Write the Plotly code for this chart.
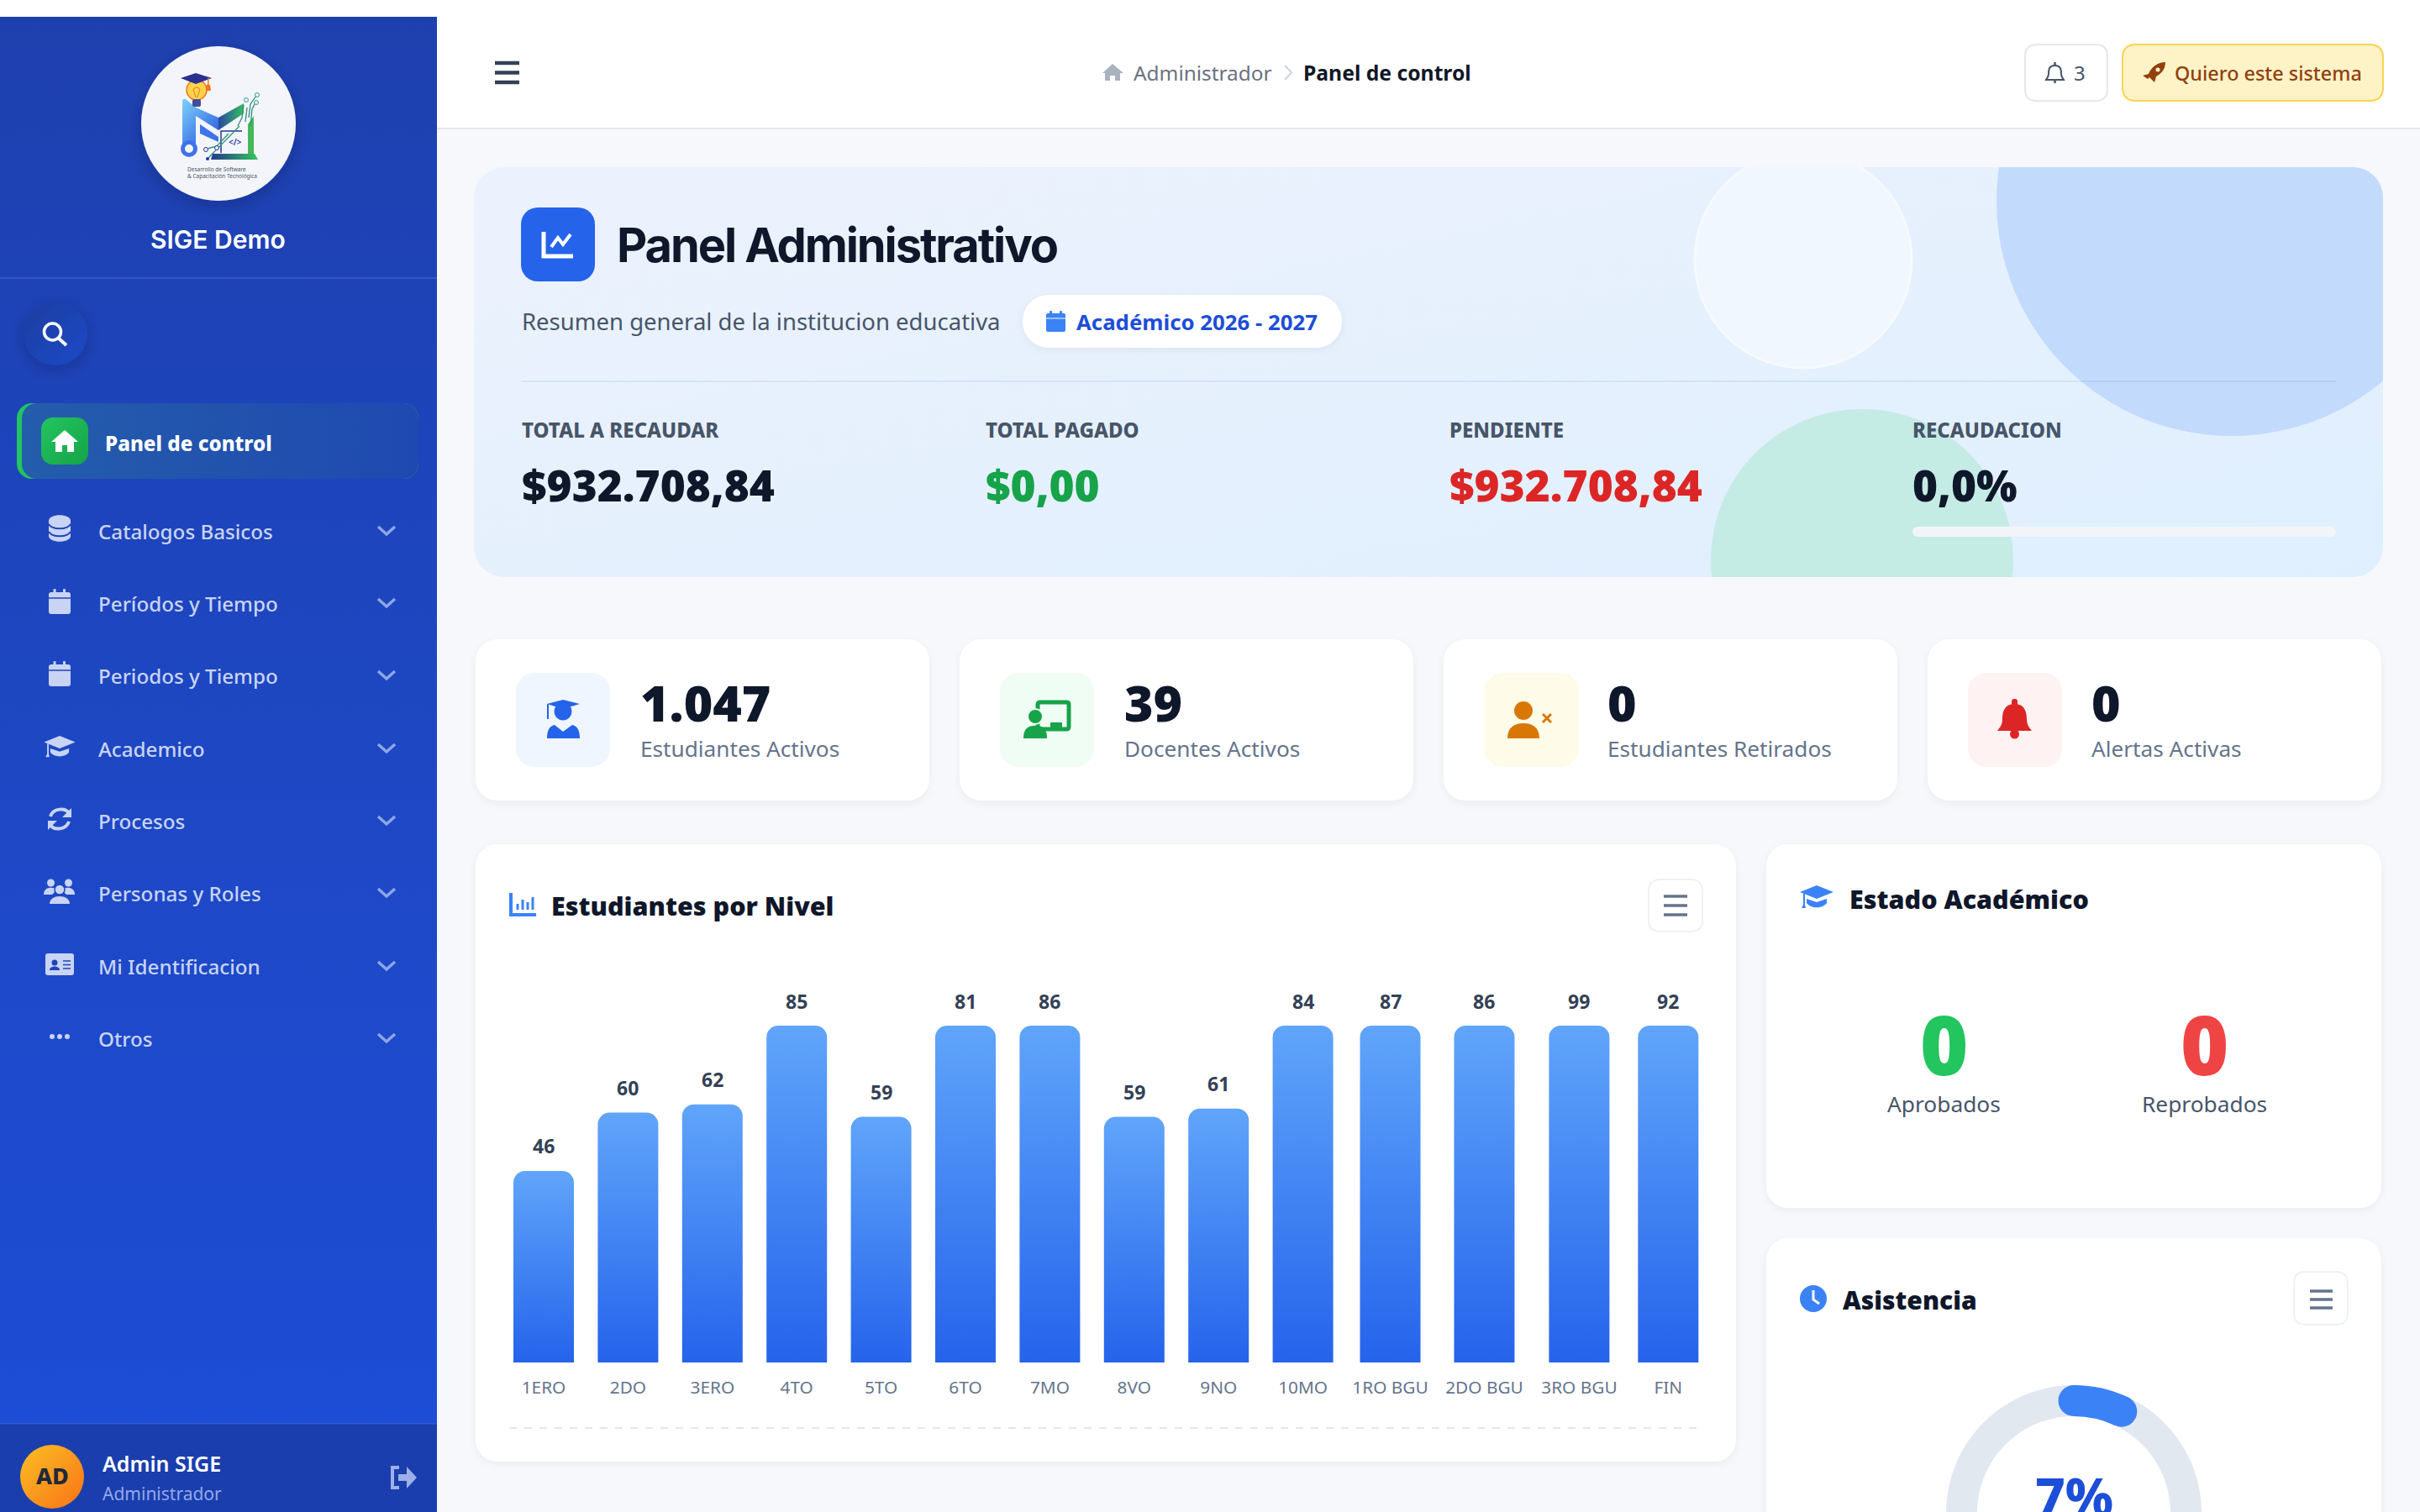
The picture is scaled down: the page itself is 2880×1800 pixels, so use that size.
import base64
import math
import plotly.graph_objects as go

W, H = 2880, 2000

# chart data
levels = ['1ERO', '2DO', '3ERO', '4TO', '5TO', '6TO', '7MO', '8VO', '9NO', '10MO', '1RO BGU', '2DO BGU', '3RO BGU', 'FIN']
students = [46, 60, 62, 85, 59, 81, 86, 59, 61, 84, 87, 86, 99, 92]
band_widths = [1, 1, 1, 1, 1, 1, 1, 1, 1, 1, 1.07, 1.16, 1.09, 1.02]
y_max = 80.9
attendance = [7, 93]

menu_items = ['Catalogos Basicos', 'Períodos y Tiempo', 'Periodos y Tiempo', 'Academico', 'Procesos',
              'Personas y Roles', 'Mi Identificacion', 'Otros']
money_labels = ['TOTAL A RECAUDAR', 'TOTAL PAGADO', 'PENDIENTE', 'RECAUDACION']
money_values = ['$932.708,84', '$0,00', '$932.708,84', '0,0%']
kpi_values = ['1.047', '39', '0', '0']
kpi_labels = ['Estudiantes Activos', 'Docentes Activos', 'Estudiantes Retirados', 'Alertas Activas']

shapes, notes = [], []


def rr(x0, y0, x1, y1, r):
    return (f'M{x0+r},{y0} L{x1-r},{y0} Q{x1},{y0} {x1},{y0+r} L{x1},{y1-r} Q{x1},{y1} {x1-r},{y1} '
            f'L{x0+r},{y1} Q{x0},{y1} {x0},{y1-r} L{x0},{y0+r} Q{x0},{y0} {x0+r},{y0} Z')


def path(d, fill=None, line=None, width=0, layer='below'):
    shapes.append(dict(type='path', path=d, xref='x', yref='y', layer=layer,
                       fillcolor=fill or 'rgba(0,0,0,0)',
                       line=dict(color=line or 'rgba(0,0,0,0)', width=width)))


def disc(cx, cy, r, fill=None, line=None, width=0, layer='below'):
    shapes.append(dict(type='circle', xref='x', yref='y', layer=layer, x0=cx-r, x1=cx+r, y0=cy-r, y1=cy+r,
                       fillcolor=fill or 'rgba(0,0,0,0)',
                       line=dict(color=line or 'rgba(0,0,0,0)', width=width)))


def text(x, y, s, size, color, weight=400, font='Noto Sans', anchor='left'):
    notes.append(dict(x=x, y=y - 1.5, xref='x', yref='y', text=s, showarrow=False, xanchor=anchor, yanchor='middle',
                      align=anchor, borderpad=0, font=dict(family=font, size=size, color=color, weight=weight)))


def burger(x0, x1, ys, color, width):
    for y in ys:
        path(f'M{x0},{y} L{x1},{y}', line=color, width=width)


def grad_cap(cx, cy, s, color):
    path(f'M{cx},{cy-15*s} L{cx+20*s},{cy-7*s} L{cx},{cy+1*s} L{cx-20*s},{cy-7*s} Z', fill=color)
    path(f'M{cx-12*s},{cy+1*s} L{cx-12*s},{cy+6*s} C{cx-7*s},{cy+13*s} {cx+7*s},{cy+13*s} {cx+12*s},{cy+6*s} '
         f'L{cx+12*s},{cy+1*s} L{cx},{cy+5*s} Z', fill=color)
    path(f'M{cx-16*s},{cy-5*s} L{cx-16*s},{cy+8*s} L{cx-18*s},{cy+12*s} L{cx-13*s},{cy+12*s} L{cx-14*s},{cy+8*s} L{cx-14*s},{cy-5*s} Z', fill=color)


# panels that need gradients or soft shadows go in one background picture
panels = f'''<svg xmlns="http://www.w3.org/2000/svg" width="{W}" height="{H}" viewBox="0 0 {W} {H}">
<defs>
<linearGradient id="side" x1="0" y1="0" x2="0" y2="1"><stop offset="0" stop-color="#1e40af"/><stop offset="1" stop-color="#1d4ed8"/></linearGradient>
<linearGradient id="hero" x1="0" y1="0" x2="1" y2="1"><stop offset="0" stop-color="#ecf2fd"/><stop offset="1" stop-color="#dfeffe"/></linearGradient>
<linearGradient id="act" x1="0" y1="0" x2="1" y2="0"><stop offset="0" stop-color="#245dab"/><stop offset="1" stop-color="#1f49b0"/></linearGradient>
<linearGradient id="srch" x1="0" y1="0" x2="1" y2="1"><stop offset="0" stop-color="#1e3f9f"/><stop offset="1" stop-color="#1d48c8"/></linearGradient>
<linearGradient id="green" x1="0" y1="0" x2="1" y2="1"><stop offset="0" stop-color="#22c55e"/><stop offset="1" stop-color="#16a34a"/></linearGradient>
<linearGradient id="ava" x1="0" y1="0" x2="1" y2="1"><stop offset="0" stop-color="#fbbf24"/><stop offset="1" stop-color="#f97316"/></linearGradient>
<linearGradient id="mleft" gradientUnits="userSpaceOnUse" x1="217" y1="118" x2="262" y2="160"><stop offset="0" stop-color="#7dd3fc"/><stop offset="1" stop-color="#2f5fe0"/></linearGradient>
<linearGradient id="mright" gradientUnits="userSpaceOnUse" x1="258" y1="0" x2="292" y2="0"><stop offset="0" stop-color="#2a3fa8"/><stop offset="1" stop-color="#34c759"/></linearGradient>
<linearGradient id="lapbase" x1="0" y1="0" x2="1" y2="0"><stop offset="0" stop-color="#25378f"/><stop offset="1" stop-color="#34c759"/></linearGradient>
<filter id="sh" x="-20%" y="-20%" width="140%" height="150%"><feDropShadow dx="0" dy="3" stdDeviation="5" flood-color="#0f172a" flood-opacity="0.05"/></filter>
<filter id="sh2" x="-30%" y="-30%" width="160%" height="170%"><feDropShadow dx="0" dy="6" stdDeviation="9" flood-color="#0f172a" flood-opacity="0.22"/></filter>
<clipPath id="heroclip"><rect x="564" y="199" width="2272" height="488" rx="36"/></clipPath>
</defs>
<rect width="{W}" height="{H}" fill="#ffffff"/>
<rect x="520" y="154" width="2360" height="{H}" fill="#f6f8fc"/>
<rect x="520" y="152" width="2360" height="2" fill="#e5e7eb"/>
<rect x="0" y="20" width="520" height="1780" fill="url(#side)"/>
<rect x="0" y="330" width="520" height="2" fill="#ffffff" fill-opacity="0.1"/>
<rect x="0" y="1695" width="520" height="105" fill="#1a3eae"/>
<rect x="0" y="1694" width="520" height="2" fill="#ffffff" fill-opacity="0.08"/>
<circle cx="260" cy="147" r="92" fill="#f3f5fb" filter="url(#sh2)"/>
<circle cx="66" cy="397" r="38" fill="url(#srch)" filter="url(#sh2)"/>
<rect x="20" y="480" width="478" height="90" rx="18" fill="#22c55e"/>
<rect x="26" y="480" width="472" height="90" rx="18" fill="url(#act)"/>
<rect x="49" y="497" width="56" height="56" rx="14" fill="url(#green)"/>
<circle cx="62" cy="1758" r="38" fill="url(#ava)"/>
<path d="M217,121 Q217,117 221,118 L233,128 L260,140 L260,155 L233,138 L233,172 L217,172 Z" fill="url(#mleft)"/>
<path d="M260,140 L290,123 L290,135 L260,155 Z" fill="url(#mright)"/>
<path d="M238,148 L260,163 L260,169 L238,159 Z" fill="#3f73ea"/>
<circle cx="225" cy="177" r="7.5" fill="#f3f5fb" stroke="#3f73ea" stroke-width="5"/>
<path d="M295,183 L295,148 L302,138 L302,183 Z" fill="#45b85a"/>
<rect x="263" y="156" width="32" height="26" fill="#f3f5fb"/>
<path d="M263,182 L263,156 L288,156" fill="none" stroke="#25378f" stroke-width="1.5"/>
<path d="M253,183 L303,183 L307,190 L251,190 Z" fill="url(#lapbase)"/>
<path d="M247,189 L285,150 M243,178 L258,174 L272,159 M290,125 L288,140 L283,150 M294,128 L292,145 M305,120 L300,130 L298,150 M305,114 L298,124 L296,140" stroke="#2f8f7f" stroke-width="1.3" fill="none"/>
<circle cx="293" cy="119" r="2.5" fill="#f3f5fb" stroke="#2f9f8f" stroke-width="1"/>
<circle cx="306" cy="113" r="2.5" fill="#f3f5fb" stroke="#2f9f8f" stroke-width="1"/>
<circle cx="305" cy="122" r="2.5" fill="#f3f5fb" stroke="#2f9f8f" stroke-width="1"/>
<circle cx="245" cy="178" r="2.5" fill="#f3f5fb" stroke="#25378f" stroke-width="1"/>
<circle cx="258" cy="176" r="2.5" fill="#f3f5fb" stroke="#25378f" stroke-width="1"/>
<circle cx="247" cy="189" r="2" fill="#25378f"/>
<circle cx="234" cy="107" r="12" fill="#fcd34d" stroke="#f97316" stroke-width="1.5"/>
<path d="M230,106 L233,116 M238,106 L235,116 M230,106 Q234,102 238,106" stroke="#f97316" stroke-width="1" fill="none"/>
<rect x="229" y="118" width="10" height="9" rx="2" fill="#3f4f9a"/>
<path d="M215,93 L233,87 L252,93 L233,100 Z" fill="#2b2f8f"/>
<rect x="247" y="93" width="1.5" height="8" fill="#f97316"/><path d="M246,101 L250,101 L251,108 L245,108 Z" fill="#f97316"/>
<g clip-path="url(#heroclip)">
<rect x="564" y="199" width="2272" height="488" fill="url(#hero)"/>
<circle cx="2656" cy="239" r="280" fill="#c2dafc"/>
<circle cx="2146" cy="309" r="129" fill="#f0f7fe" stroke="#f6faff" stroke-width="3"/>
<circle cx="2216" cy="667" r="180" fill="#c4ebe4"/>
</g>
<rect x="620" y="453" width="2160" height="2" fill="#3b6cc0" fill-opacity="0.1"/>
<rect x="2276" y="627" width="504" height="12" rx="6" fill="#f1f5f9"/>
<rect x="620" y="247" width="88" height="88" rx="20" fill="#2563eb"/>
<rect x="1217" y="351" width="380" height="63" rx="31" fill="#ffffff" filter="url(#sh)"/>
<rect x="566" y="761" width="540" height="192" rx="26" fill="#ffffff" filter="url(#sh)"/>
<rect x="1142" y="761" width="540" height="192" rx="26" fill="#ffffff" filter="url(#sh)"/>
<rect x="1718" y="761" width="540" height="192" rx="26" fill="#ffffff" filter="url(#sh)"/>
<rect x="2294" y="761" width="540" height="192" rx="26" fill="#ffffff" filter="url(#sh)"/>
<rect x="614" y="801" width="112" height="112" rx="22" fill="#eff6ff"/>
<rect x="1190" y="801" width="112" height="112" rx="22" fill="#f0fdf4"/>
<rect x="1767" y="801" width="112" height="112" rx="22" fill="#fefce8"/>
<rect x="2342" y="801" width="112" height="112" rx="22" fill="#fef2f2"/>
<rect x="566" y="1005" width="1500" height="735" rx="26" fill="#ffffff" filter="url(#sh)"/>
<rect x="2102" y="1005" width="732" height="433" rx="26" fill="#ffffff" filter="url(#sh)"/>
<rect x="2102" y="1474" width="732" height="500" rx="26" fill="#ffffff" filter="url(#sh)"/>
</svg>'''
panels_uri = 'data:image/svg+xml;base64,' + base64.b64encode(panels.encode()).decode()

# sidebar
text(259, 286, 'SIGE Demo', 30, '#ffffff', 600, 'Inter', 'center')
text(280, 170, '&lt;/&gt;', 10, '#25378f', 600, 'Noto Sans', 'center')
text(222, 202.5, 'Desarrollo de Software', 6.5, '#4b5563')
text(222, 210.5, '&amp; Capacitación Tecnológica', 6.5, '#4b5563')
disc(62.5, 395, 10, line='#ffffff', width=3.5)
path('M70,403 L79,411', line='#ffffff', width=4)
path('M77,512 L93,526 L88,526 L88,538 L80,538 L80,530 L74,530 L74,538 L66,538 L66,526 L61,526 Z', fill='#ffffff')
text(124, 528.5, 'Panel de control', 24.2, '#ffffff', 800)

menu_y = [632, 718, 804, 891, 977, 1063, 1150, 1236]
icon_c = '#c9d4f4'
side_c = '#1e44b8'
for name, y in zip(menu_items, menu_y):
    text(116, y + 1.5, name, 24.2, icon_c, 500)
    path(f'M450,{y-5} L460,{y+4} L470,{y-5}', line='#8ea6e8', width=3.5)

path('M58,620 C58,611 84,611 84,620 L84,638 C84,647 58,647 58,638 Z', fill=icon_c)
path('M58,624 C62,631 80,631 84,624 M58,633 C62,640 80,640 84,633', line=side_c, width=2)
for y in menu_y[1:3]:
    path(rr(58, y-13, 84, y+13, 3), fill=icon_c)
    path(f'M58,{y-6} L84,{y-6}', line=side_c, width=1.5)
    path(rr(63.5, y-17, 66.5, y-11, 1), fill=icon_c)
    path(rr(75, y-17, 78, y-11, 1), fill=icon_c)
grad_cap(71, 890, 0.93, icon_c)
path('M60,972 C63,962 78,961 82,968', line=icon_c, width=4)
path('M85,962 L85,973 L74,973 Z', fill=icon_c)
path('M82,978 C79,988 64,989 60,982', line=icon_c, width=4)
path('M57,988 L57,977 L68,977 Z', fill=icon_c)
disc(60.5, 1051, 4.5, icon_c)
disc(81.5, 1051, 4.5, icon_c)
path('M52,1065 C52,1056 62,1055 68,1059 L62,1065 Z', fill=icon_c)
path('M89,1065 C89,1056 79,1055 73,1059 L79,1065 Z', fill=icon_c)
disc(71, 1059, 6, icon_c, side_c, 1.5)
path('M59,1076 C59,1064 83,1064 83,1076 Z', fill=icon_c)
path(rr(54, 1135, 88, 1161, 3), fill=icon_c)
disc(65, 1146, 3.5, side_c)
path('M59,1155 C59,1149 71,1149 71,1155 Z', fill=side_c)
for y in (1144, 1148.5, 1153):
    path(f'M75,{y} L84,{y}', line=side_c, width=1.5)
for x in (62, 71, 80):
    disc(x, 1234, 3, icon_c)

text(62, 1758, 'AD', 27, '#1e293b', 800, 'Noto Sans', 'center')
text(121, 1743, 'Admin SIGE', 25, '#ffffff', 600)
text(121, 1779, 'Administrador', 21, '#93a8e8')
path('M475,1747 L467,1747 L467,1771 L475,1771', line='#9db0e8', width=4)
path('M474,1755 L484,1755 L484,1746 L496,1759 L484,1772 L484,1763 L474,1763 Z', fill='#9db0e8')

# header
burger(589, 618, [75, 86.5, 98], '#334155', 4.5)
path('M1324,76 L1337,87 L1333,87 L1333,96 L1327,96 L1327,90 L1321,90 L1321,96 L1315,96 L1315,87 L1312,87 Z', fill='#aab2bf')
text(1348, 88, 'Administrador', 24.4, '#6b7280')
path('M1529,78 L1537,86.5 L1529,95', line='#cbd5e1', width=2)
text(1550, 88, 'Panel de control', 24.7, '#111827', 700)
path(rr(2410, 53, 2508, 120, 14), fill='#ffffff', line='#e5e7eb', width=2)
path('M2445.5,78 C2438,78 2438,84 2438,88 C2438,92 2436,93 2435,95 L2456,95 C2455,93 2453,92 2453,88 C2453,84 2453,78 2445.5,78 Z',
     line='#475569', width=2)
path('M2445.5,74 L2445.5,78 M2445.5,96 L2445.5,99', line='#475569', width=2.5)
text(2475, 88, '3', 24, '#475569', 400, 'Noto Sans', 'center')
path(rr(2526, 53, 2836, 120, 16), fill='#fef3c7', line='#fcd34d', width=2)
path('M2577,74 C2568,74 2560,80 2557,88 L2550,90 L2556,94 L2558,92 L2564,98 L2566,91 C2573,87 2577,82 2577,74 Z', fill='#92400e')
disc(2568, 83, 2.5, '#fef3c7')
text(2587, 88, 'Quiero este sistema', 23.4, '#92400e', 500)

# hero
path('M647,276 L647,305 L682,305', line='#ffffff', width=5)
path('M656,294 L664,283 L670,291 L679,279', line='#ffffff', width=4)
text(733, 293.5, 'Panel Administrativo', 56, '#0f172a', 700, 'Inter')
text(620, 384, 'Resumen general de la institucion educativa', 27.5, '#475569')
path(rr(1245, 373, 1268, 395, 2), fill='#3b82f6')
path(rr(1249, 370, 1252, 375, 1), fill='#3b82f6')
path(rr(1261, 370, 1264, 375, 1), fill='#3b82f6')
path('M1245,379 L1268,379', line='#ffffff', width=1)
text(1280, 384, 'Académico 2026 - 2027', 25.8, '#1d4ed8', 700)

money_x = [620, 1172, 1724, 2275]
money_colors = ['#0f172a', '#16a34a', '#dc2626', '#0f172a']
for x, lab, val, col in zip(money_x, money_labels, money_values, money_colors):
    text(x, 513, lab, 24, '#475569', 800)
    text(x, 578, val, 51.3, col, 900)

# kpi cards
kpi_x = [761, 1337, 1912, 2488]
for x, val, lab in zip(kpi_x, kpi_values, kpi_labels):
    text(x, 837, val, 59, '#0f172a', 900)
    text(x, 892, lab, 26.2, '#64748b')
path('M651,838 L670,833 L690,838 L670,844 Z', fill='#2563eb')
disc(670, 847, 10.5, '#2563eb')
path('M652,838 L652,856', line='#2563eb', width=2)
path('M651,879 C651,868 655,864 660,863 L670,871 L681,863 C686,864 690,868 690,879 Z', fill='#2563eb')
path(rr(1235, 836, 1272, 868, 3), line='#16a34a', width=5)
disc(1232, 853, 9, '#16a34a', '#f0fdf4', 2)
path('M1218,879 C1218,866 1225,864 1232,864 C1240,864 1246,866 1246,879 Z', fill='#16a34a')
path(rr(1250, 860, 1264, 870, 1), fill='#16a34a')
disc(1813, 846, 11, '#d97706')
path('M1794,879 C1794,866 1802,861 1813,861 C1824,861 1832,866 1832,879 Z', fill='#d97706')
path('M1836,850 L1846,860 M1846,850 L1836,860', line='#d97706', width=3)
path('M2397.5,838 C2386,838 2383,847 2383,856 C2383,863 2380,866 2377,870 L2418,870 C2415,866 2412,863 2412,856 C2412,847 2409,838 2397.5,838 Z', fill='#dc2626')
path(rr(2394, 832, 2401, 842, 3), fill='#dc2626')
disc(2397.5, 874, 5.5, '#dc2626')

# chart card
path('M608,1063 L608,1089 L638,1089', line='#3b82f6', width=4)
for x, top in zip((616, 622, 628, 634), (1076, 1071, 1074, 1068)):
    path(f'M{x},{top} L{x},1083', line='#3b82f6', width=3)
text(655, 1079, 'Estudiantes por Nivel', 30.5, '#0f172a', 900)
path(rr(1962, 1047, 2026, 1109, 14), fill='#ffffff', line='#eef1f6', width=2)
burger(1980, 2008, [1067, 1078, 1089], '#64748b', 3.5)
shapes.append(dict(type='line', xref='x', yref='y', layer='below', x0=606, x1=2026, y0=1700, y1=1700,
                   line=dict(color='#e2e8f0', width=2, dash='dash')))

# estado academico
grad_cap(2162, 1069, 1, '#3b82f6')
text(2200, 1071, 'Estado Académico', 30.5, '#0f172a', 900)
text(2313, 1243, '0', 98, '#22c55e', 900, 'Noto Sans', 'center')
text(2623, 1243, '0', 98, '#ef4444', 900, 'Noto Sans', 'center')
text(2313, 1315, 'Aprobados', 26.3, '#475569', 400, 'Noto Sans', 'center')
text(2623, 1315, 'Reprobados', 26.3, '#475569', 400, 'Noto Sans', 'center')

# asistencia
disc(2158, 1546, 16, '#3b82f6')
path('M2158,1536 L2158,1547 L2165,1552', line='#ffffff', width=3)
text(2192, 1549, 'Asistencia', 30, '#0f172a', 900)
path(rr(2730, 1514, 2794, 1577, 14), fill='#ffffff', line='#eef1f6', width=2)
burger(2749, 2776, [1537, 1547, 1557], '#64748b', 3.5)

gauge_x, gauge_y, gauge_r = 2468, 1801, 152
ring = 37
end_angle = attendance[0] / sum(attendance) * 2 * math.pi
mid_r = gauge_r - ring / 2
disc(gauge_x, gauge_y - mid_r, ring / 2, '#3b82f6', layer='above')
disc(gauge_x + mid_r * math.sin(end_angle), gauge_y - mid_r * math.cos(end_angle), ring / 2, '#3b82f6', layer='above')
text(gauge_x, 1782, f'{attendance[0]}%', 62, '#1d4ed8', 800, 'Noto Sans', 'center')

# the bars sit in bands whose widths follow the labels
band_px = 100.4
centers = []
edge = 0
for w in band_widths:
    centers.append(edge + w / 2)
    edge += w
bar_tops = [min(v, y_max) for v in students]
for c, v, top in zip(centers, students, bar_tops):
    notes.append(dict(x=c, y=top, xref='x2', yref='y2', text=str(v), showarrow=False, yshift=29.5, yanchor='middle',
                      font=dict(family='Noto Sans', size=23, color='#334155', weight=700)))

fig = go.Figure()
fig.add_trace(go.Scatter(x=[None], y=[None], xaxis='x', yaxis='y', showlegend=False, hoverinfo='skip'))
fig.add_trace(go.Bar(x=centers, y=bar_tops, width=72 / band_px, xaxis='x2', yaxis='y2', showlegend=False,
                     marker=dict(color='#4287f5', line=dict(width=0), cornerradius=14), hoverinfo='skip'))
fig.add_trace(go.Pie(values=attendance, hole=(gauge_r - ring) / gauge_r, sort=False, direction='clockwise', rotation=0,
                     marker=dict(colors=['#3b82f6', '#e2e8f0'], line=dict(width=0)), textinfo='none', showlegend=False,
                     hoverinfo='skip',
                     domain=dict(x=[(gauge_x - gauge_r) / W, (gauge_x + gauge_r) / W],
                                 y=[1 - (gauge_y + gauge_r) / H, 1 - (gauge_y - gauge_r) / H])))

plot_left = 596.8
fig.update_layout(
    width=W, height=H, margin=dict(l=0, r=0, t=0, b=0, autoexpand=False), hovermode=False,
    paper_bgcolor='#ffffff', plot_bgcolor='rgba(0,0,0,0)', showlegend=False,
    font=dict(family='Noto Sans'),
    xaxis=dict(domain=[0, 1], range=[0, W], visible=False, fixedrange=True),
    yaxis=dict(domain=[0, 1], range=[H, 0], visible=False, fixedrange=True),
    xaxis2=dict(domain=[plot_left / W, (plot_left + edge * band_px) / W], range=[0, edge], anchor='y2',
                tickmode='array', tickvals=centers, ticktext=levels, tickangle=0, showgrid=False, zeroline=False,
                showline=False, ticks='outside', ticklen=11, tickcolor='rgba(0,0,0,0)', fixedrange=True,
                tickfont=dict(family='Noto Sans', size=20.8, color='#64748b')),
    yaxis2=dict(domain=[1 - 1622 / H, 1 - 1221 / H], range=[0, y_max], anchor='x2', visible=False, fixedrange=True),
    images=[dict(source=panels_uri, xref='paper', yref='paper', x=0, y=1, sizex=1, sizey=1, sizing='stretch',
                 xanchor='left', yanchor='top', layer='below')],
    shapes=shapes, annotations=notes,
)

# bar gradient, title tracking and page fit have no layout option
post = """
var gd = document.getElementById('{plot_id}');
document.body.style.margin = '0';
document.documentElement.style.overflow = 'hidden';
document.body.style.overflow = 'hidden';
gd.parentElement.style.height = '1800px';
gd.parentElement.style.overflow = 'hidden';
var ns = 'http://www.w3.org/2000/svg';
var defs = gd.querySelector('.main-svg defs');
var g = document.createElementNS(ns, 'linearGradient');
g.setAttribute('id', 'barfill');
g.setAttribute('x1', '0'); g.setAttribute('y1', '0'); g.setAttribute('x2', '0'); g.setAttribute('y2', '1');
[['0', '#60a5fa'], ['1', '#2563eb']].forEach(function (s) {
  var st = document.createElementNS(ns, 'stop');
  st.setAttribute('offset', s[0]); st.setAttribute('stop-color', s[1]);
  g.appendChild(st);
});
defs.appendChild(g);
gd.querySelectorAll('.barlayer .point path').forEach(function (p) { p.style.fill = 'url(#barfill)'; });
gd.querySelectorAll('.annotation-text').forEach(function (t) {
  if (t.textContent === 'Panel Administrativo') { t.style.letterSpacing = '-2.1px'; }
});
"""
fig.write_html('out.html', config=dict(displayModeBar=False), post_script=post)
